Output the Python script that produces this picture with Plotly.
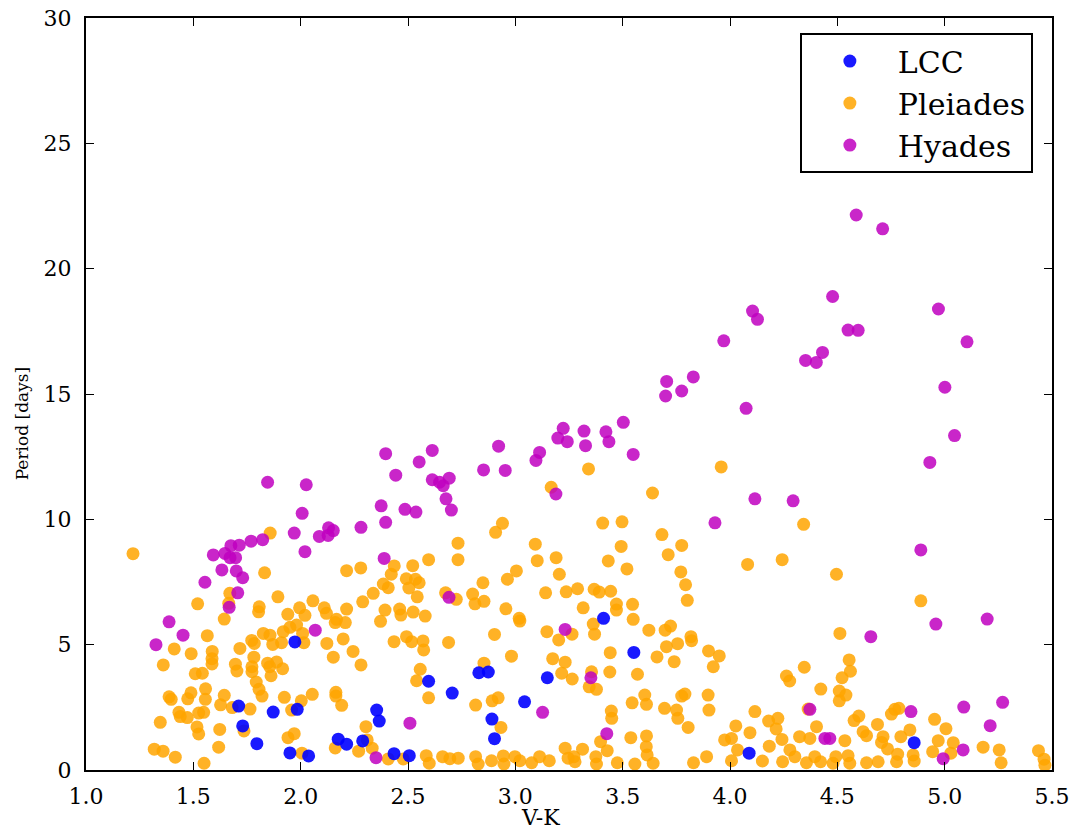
import plotly.graph_objects as go

# Rotation period versus V-K colour for three clusters

lcc_vk = [1.973, 1.711, 1.872, 1.984, 1.730, 1.796, 1.950, 2.037, 2.175, 2.214,
          2.289, 2.354, 2.366, 2.435, 2.506, 2.596, 2.706, 2.830, 2.874, 2.891,
          2.903, 3.043, 3.149, 3.411, 3.552, 4.089, 4.858]
lcc_period = [5.11, 2.55, 2.31, 2.42, 1.76, 1.05, 0.68, 0.56, 1.23, 1.03,
              1.16, 2.39, 1.95, 0.65, 0.57, 3.54, 3.07, 3.88, 3.91, 2.03,
              1.25, 2.72, 3.68, 6.05, 4.69, 0.67, 1.09]

hyades_vk = [1.326, 1.387, 1.452, 1.554, 1.593, 1.633, 1.647, 1.667, 1.671, 1.675,
             1.697, 1.700, 1.707, 1.714, 1.730, 1.769, 1.823, 1.846, 1.970, 2.007,
             2.020, 2.026, 2.068, 2.087, 2.128, 2.130, 2.152, 2.281, 2.351, 2.375,
             2.389, 2.396, 2.396, 2.443, 2.486, 2.509, 2.537, 2.552, 2.613, 2.613,
             2.647, 2.664, 2.677, 2.691, 2.692, 2.702, 2.852, 2.922, 2.953, 3.096,
             3.113, 3.127, 3.189, 3.198, 3.223, 3.232, 3.242, 3.320, 3.327, 3.352,
             3.422, 3.426, 3.436, 3.503, 3.549, 3.700, 3.705, 3.775, 3.829, 3.930,
             3.971, 4.075, 4.105, 4.116, 4.128, 4.294, 4.352, 4.372, 4.402, 4.431,
             4.442, 4.465, 4.478, 4.550, 4.588, 4.597, 4.656, 4.711, 4.843, 4.889,
             4.931, 4.959, 4.971, 4.993, 5.001, 5.046, 5.086, 5.089, 5.104, 5.198,
             5.212, 5.270]
hyades_period = [5.00, 5.91, 5.38, 7.49, 8.58, 7.98, 8.64, 6.49, 8.47, 8.95,
                 8.47, 7.94, 7.07, 8.97, 7.67, 9.13, 9.19, 11.48, 9.45, 10.24,
                 8.71, 11.38, 5.58, 9.32, 9.36, 9.66, 9.55, 9.68, 0.49, 10.54,
                 8.44, 12.62, 9.88, 11.76, 10.40, 1.87, 10.29, 12.29, 12.75, 11.58,
                 11.48, 11.34, 10.82, 6.89, 11.64, 10.37, 11.97, 12.92, 11.95, 12.35,
                 12.67, 2.30, 11.01, 13.24, 13.63, 5.61, 13.10, 13.52, 12.94, 3.68,
                 13.49, 1.45, 13.10, 13.87, 12.59, 14.92, 15.50, 15.12, 15.68, 9.86,
                 17.12, 14.43, 18.31, 10.82, 17.98, 10.74, 16.34, 2.42, 16.26, 16.66,
                 1.26, 1.26, 18.89, 17.55, 22.14, 17.54, 5.32, 21.59, 2.33, 8.78,
                 12.27, 5.82, 18.39, 0.45, 15.27, 13.34, 0.80, 2.51, 17.08, 6.02,
                 1.77, 2.70]

pleiades_vk = [
    1.219, 1.858, 1.832, 1.894, 2.057, 2.110, 2.120, 1.995, 1.940, 2.020,
    1.807, 1.804, 1.520, 1.670, 1.665, 1.644, 2.167,
    2.161, 1.565, 1.411, 1.490, 1.360, 1.588, 1.587, 1.587, 1.509, 1.542,
    1.717, 1.772, 1.784, 1.826, 1.857, 1.870, 1.911, 1.919, 1.950, 1.981,
    2.009, 2.015, 2.122, 2.152, 1.782, 1.696, 1.703, 1.773, 1.773, 1.846,
    1.856, 1.888, 1.916, 1.862, 1.793, 1.806, 1.820, 1.557, 1.556, 1.489,
    1.474, 1.387, 1.397, 1.644, 1.627, 1.433, 1.439, 1.472, 1.525, 1.548,
    1.346, 1.517, 1.525, 1.623, 1.681, 1.764, 1.924, 2.003, 2.054, 2.164,
    1.958, 1.736, 1.941, 1.970, 2.161, 1.318, 1.359, 1.416, 1.618, 1.550,
    2.006,
    3.167, 2.940, 2.908, 2.733, 2.733, 3.093, 3.102, 3.190, 3.205, 3.237,
    3.141, 2.596, 2.522, 2.436, 2.422, 2.492, 2.535, 2.552, 2.504, 2.543,
    2.385, 2.408, 2.338, 2.280, 2.214, 2.289, 2.214, 2.393, 2.461, 2.524,
    2.580, 2.467, 2.675, 2.725, 2.801, 2.812, 2.854, 2.849, 2.963, 3.005,
    2.956, 3.018,
    2.372, 2.208, 2.198, 2.244, 2.281, 2.435, 2.493, 2.517, 2.570, 2.573,
    2.689, 2.903, 3.021, 2.982, 3.147, 3.202, 3.174, 3.232, 3.216, 2.854,
    2.557, 2.540, 2.596, 2.164, 2.191, 2.304, 2.310, 2.333, 2.270, 2.408,
    2.478, 2.815, 2.892, 2.920, 2.933, 2.585, 2.599, 2.661, 2.695, 2.734,
    2.815, 2.827, 2.889, 2.944, 2.947, 2.998, 3.021, 3.076, 3.113, 3.158,
    3.232, 3.246,
    3.341, 3.959, 3.639, 3.407, 3.497, 3.683, 4.343, 3.775, 3.493, 3.712,
    3.433, 3.520, 3.771, 3.793, 3.801, 4.082, 4.243, 3.290, 3.367, 3.391,
    3.444, 3.316, 3.471, 3.546, 3.471, 3.549,
    3.363, 3.369, 3.264, 3.622, 3.698, 3.723, 3.818, 3.821, 3.756, 3.704,
    3.900, 3.950, 3.922, 3.660, 3.740, 3.442, 3.265, 3.355, 3.344, 3.378,
    3.440, 3.569, 3.603, 3.611, 3.544, 3.447, 3.449, 3.695, 3.751, 3.757,
    3.805, 3.775, 3.790, 3.898, 3.902, 4.346, 4.263, 4.278, 4.116, 4.027,
    4.093, 4.180, 4.223, 4.215, 4.242, 4.183, 4.324, 3.975, 4.007, 4.035,
    4.007, 4.151, 4.245, 4.279, 4.302, 3.830, 3.891, 3.538, 3.611, 3.610,
    3.614, 3.642, 3.557, 3.475, 3.397, 3.428, 3.375, 3.378, 3.313, 3.273,
    3.278,
    4.496, 4.889,
    4.512, 4.555, 4.561, 4.522, 4.423, 4.509, 4.540, 4.509, 4.364, 4.403,
    4.372, 4.535, 4.578, 4.600, 4.752, 4.768, 4.787, 4.687, 4.620, 4.636,
    4.713, 4.706, 4.796, 4.838, 4.734, 4.781, 4.853, 4.858, 4.776, 4.690,
    4.636, 4.558, 4.550, 4.493, 4.480, 4.395, 4.356, 4.422, 4.953, 5.006,
    4.970, 5.040, 4.944, 5.029, 5.179, 5.254, 5.263, 5.437, 5.463, 5.467,
]
pleiades_period = [
    8.63, 9.45, 7.87, 6.91, 6.75, 6.47, 6.25, 6.47, 6.21, 6.17,
    6.51, 6.31, 6.63, 7.05, 6.65, 6.02, 6.01,
    5.88, 5.36, 4.83, 4.64, 4.19, 4.73, 4.44, 4.23, 3.84, 3.86,
    4.85, 5.17, 5.05, 5.45, 5.38, 5.01, 5.08, 5.52, 5.69, 5.78,
    5.45, 5.08, 5.05, 4.50, 4.50, 4.22, 3.95, 4.12, 3.92, 4.26,
    4.12, 4.31, 4.04, 3.76, 3.51, 3.22, 2.95, 3.24, 2.82, 3.08,
    2.84, 2.92, 2.82, 2.98, 2.60, 2.30, 2.13, 2.09, 2.27, 2.30,
    1.90, 1.72, 1.44, 1.62, 2.49, 2.43, 2.90, 2.76, 3.02, 3.10,
    2.39, 1.56, 1.29, 1.45, 0.88, 0.83, 0.75, 0.51, 0.91, 0.27,
    0.67,
    11.28, 9.84, 9.48, 9.05, 8.39, 9.01, 8.35, 8.47, 7.81, 7.11,
    7.07, 8.39, 8.15, 8.14, 7.81, 7.63, 7.61, 7.47, 7.26, 6.91,
    7.42, 7.27, 7.05, 8.06, 7.95, 6.71, 6.42, 6.38, 6.42, 6.30,
    6.14, 6.18, 7.07, 6.81, 7.02, 6.63, 6.73, 7.47, 7.61, 7.94,
    6.43, 6.05,
    5.93, 5.88, 5.23, 4.73, 4.19, 5.12, 5.32, 5.12, 5.15, 4.79,
    5.09, 5.41, 5.94, 4.54, 5.52, 5.19, 4.44, 4.30, 3.86, 4.26,
    4.02, 3.56, 2.88, 2.95, 2.58, 1.73, 1.20, 0.87, 0.75, 0.44,
    0.44, 2.59, 2.76, 2.88, 1.70, 0.57, 0.27, 0.53, 0.45, 0.47,
    0.53, 0.24, 0.37, 0.56, 0.24, 0.53, 0.37, 0.29, 0.53, 0.37,
    0.87, 0.47,
    12.01, 12.09, 11.05, 9.85, 9.90, 9.39, 9.80, 8.96, 8.92, 8.59,
    8.34, 8.02, 7.90, 7.39, 6.77, 8.20, 8.39, 7.23, 7.21, 7.10,
    7.13, 6.47, 6.62, 6.61, 6.38, 6.01,
    5.82, 5.42, 5.42, 5.58, 5.58, 5.74, 5.32, 5.16, 5.04, 4.92,
    4.75, 4.55, 4.12, 4.51, 4.32, 4.68, 3.63, 3.92, 3.32, 3.22,
    3.91, 3.82, 2.99, 2.62, 2.68, 2.35, 2.06, 2.46, 2.39, 2.06,
    1.70, 2.95, 3.03, 2.99, 2.39, 4.10, 3.75, 3.55, 2.33, 1.76,
    1.49, 1.95, 2.06, 1.64, 1.22, 0.95, 1.33, 1.20, 1.26, 0.80,
    0.37, 0.36, 0.33, 0.80, 0.53, 0.29, 0.53, 1.29, 1.36, 0.93,
    0.60, 0.27, 0.24, 0.29, 1.13, 0.77, 0.53, 0.24, 0.83, 0.53,
    0.33,
    7.81, 6.75,
    5.45, 4.39, 3.94, 3.68, 3.23, 3.15, 2.99, 2.76, 2.43, 1.73,
    1.26, 1.17, 1.97, 2.15, 2.23, 2.42, 2.46, 1.82, 1.53, 1.37,
    1.33, 1.10, 1.33, 1.60, 0.84, 0.63, 0.60, 0.36, 0.33, 0.33,
    0.29, 0.27, 0.57, 0.53, 0.27, 0.53, 0.29, 0.33, 2.02, 1.65,
    1.17, 1.09, 0.73, 0.67, 0.91, 0.80, 0.29, 0.77, 0.43, 0.19,
]

x_ticks = [1.0, 1.5, 2.0, 2.5, 3.0, 3.5, 4.0, 4.5, 5.0, 5.5]
x_tick_text = ["1.0", "1.5", "2.0", "2.5", "3.0", "3.5", "4.0", "4.5", "5.0", "5.5"]
y_ticks = [0, 5, 10, 15, 20, 25, 30]

FONT = "DejaVu Serif"

fig = go.Figure()

fig.add_trace(go.Scatter(
    x=pleiades_vk, y=pleiades_period, mode="markers", name="Pleiades",
    legendrank=2,
    marker=dict(color="rgb(255,165,0)", size=13, opacity=0.85, line=dict(width=0)),
))
fig.add_trace(go.Scatter(
    x=hyades_vk, y=hyades_period, mode="markers", name="Hyades",
    legendrank=3,
    marker=dict(color="rgb(191,0,191)", size=13, opacity=0.85, line=dict(width=0)),
))
fig.add_trace(go.Scatter(
    x=lcc_vk, y=lcc_period, mode="markers", name="LCC",
    legendrank=1,
    marker=dict(color="rgb(0,0,255)", size=13, opacity=0.9, line=dict(width=0)),
))

axis_common = dict(
    showline=True, linecolor="black", linewidth=2, mirror="ticks",
    ticks="inside", ticklen=8, tickwidth=1, tickcolor="black",
    showgrid=False, zeroline=False, automargin=False,
    tickfont=dict(family=FONT, size=22, color="black"),
)

fig.update_layout(
    width=1079, height=833,
    margin=dict(l=86, r=27, t=18, b=63),
    paper_bgcolor="white", plot_bgcolor="white",
    font=dict(family=FONT, color="black"),
    xaxis=dict(
        range=[1.0, 5.5], tickvals=x_ticks, ticktext=x_tick_text,
        ticklabelstandoff=6,
        **axis_common,
    ),
    yaxis=dict(
        range=[0, 30], tickvals=y_ticks,
        ticklabelstandoff=8,
        **axis_common,
    ),
    legend=dict(
        x=0.739, y=0.98, xanchor="left", yanchor="top",
        bgcolor="white", bordercolor="black", borderwidth=2,
        font=dict(family=FONT, size=30),
        itemwidth=86, tracegroupgap=0,
    ),
    showlegend=True,
    annotations=[
        dict(text="V-K", xref="paper", yref="paper", x=0.47, y=-0.063,
             xanchor="center", yanchor="middle", showarrow=False,
             font=dict(family=FONT, size=22, color="black")),
        dict(text="Period [days]", xref="paper", yref="paper", x=-0.066, y=0.46,
             xanchor="center", yanchor="middle", textangle=-90, showarrow=False,
             font=dict(family=FONT, size=17, color="black")),
    ],
)

fig.write_html("out.html")
